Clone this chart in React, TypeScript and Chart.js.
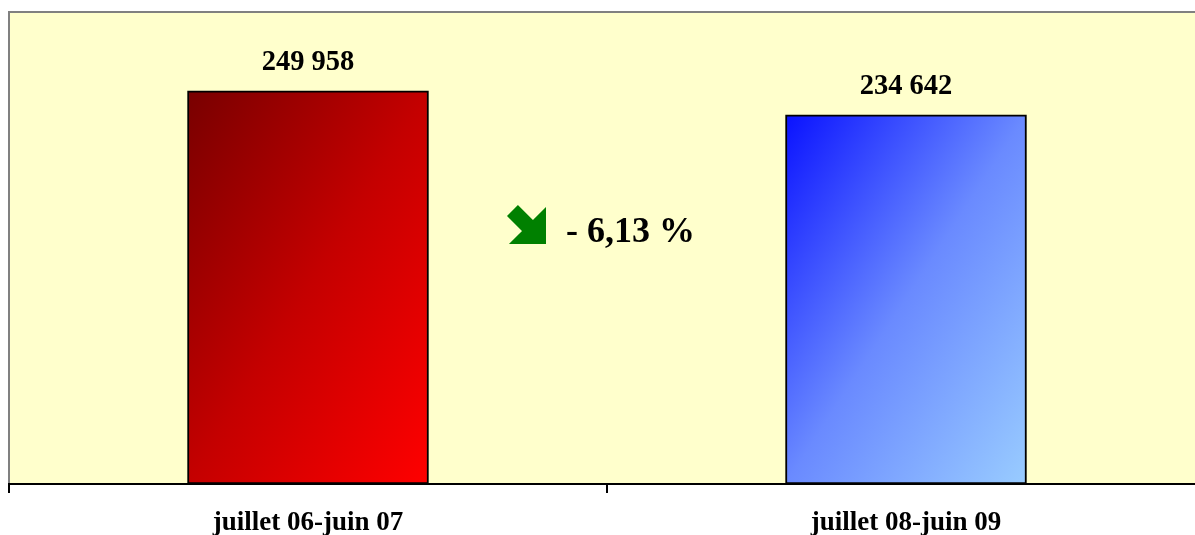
import React, { useEffect, useRef } from "react";
import { Chart, registerables } from "chart.js";

Chart.register(...registerables);

const categories = ["juillet 06-juin 07", "juillet 08-juin 09"];
const values = [249958, 234642];
const yMax = 300000;

const gradientStops: string[][] = [
  ["#780000", "#c40000", "#ff0000"],
  ["#0a12ff", "#6a8aff", "#99ccff"],
];

const FONT = '"Liberation Serif", "Times New Roman", serif';
const BAR_W = 241;

const fmt = (v: number) => {
  const s = String(Math.round(v));
  return s.replace(/\B(?=(\d{3})+(?!\d))/g, " ");
};

const pct = ((values[1] - values[0]) / values[0]) * 100;
const pctLabel = (pct < 0 ? "- " : "+ ") + Math.abs(pct).toFixed(2).replace(".", ",") + " %";

const decorPlugin = {
  id: "decor",
  beforeDraw(chart: any) {
    const { ctx, chartArea } = chart;
    ctx.save();
    ctx.fillStyle = "#FFFFCC";
    ctx.fillRect(chartArea.left, chartArea.top, chart.width - chartArea.left, chartArea.bottom - chartArea.top);
    ctx.fillStyle = "#808080";
    ctx.fillRect(chartArea.left - 1, chartArea.top - 1, chart.width, 2);
    ctx.fillRect(chartArea.left - 1, chartArea.top - 1, 2, chartArea.bottom - chartArea.top + 1);
    ctx.restore();
  },
  afterDatasetsDraw(chart: any) {
    const { ctx, chartArea } = chart;
    const xs = chart.scales.x;
    const ys = chart.scales.y;
    ctx.save();
    ctx.fillStyle = "#000";
    ctx.font = `bold 28.5px ${FONT}`;
    ctx.textAlign = "center";
    ctx.textBaseline = "middle";
    values.forEach((v, i) => {
      const x = xs.getPixelForValue(i);
      const y = ys.getPixelForValue(v);
      ctx.fillText(fmt(v), x, y - 28);
    });

    // change annotation
    const mid = (xs.getPixelForValue(0) + xs.getPixelForValue(1)) / 2;
    const ax = mid - 100;
    const ay = chartArea.top + 193;
    const s = 39;
    const pts = [
      [0.28, 0],
      [0.665, 0.385],
      [1, 0.05],
      [1, 1],
      [0.05, 1],
      [0.385, 0.665],
      [0, 0.28],
    ];
    ctx.fillStyle = "#008000";
    ctx.beginPath();
    pts.forEach(([px, py], k) => {
      const X = ax + px * s;
      const Y = ay + py * s;
      if (k === 0) ctx.moveTo(X, Y);
      else ctx.lineTo(X, Y);
    });
    ctx.closePath();
    ctx.fill();

    ctx.fillStyle = "#000";
    ctx.font = `bold 36px ${FONT}`;
    ctx.textAlign = "left";
    ctx.textBaseline = "middle";
    ctx.fillText(pctLabel, mid - 41, chartArea.top + 221);
    ctx.restore();
  },
};

export default function App() {
  const ref = useRef<HTMLCanvasElement>(null);

  useEffect(() => {
    const canvas = ref.current;
    if (!canvas) return;
    const chart = new Chart(canvas, {
      type: "bar",
      data: {
        labels: categories,
        datasets: [
          {
            data: values,
            backgroundColor: (c: any) => {
              const chart = c.chart;
              const i = c.dataIndex;
              const xs = chart.scales?.x;
              const ys = chart.scales?.y;
              const stops = gradientStops[i % gradientStops.length];
              if (!xs || !ys || !chart.chartArea) return stops[1];
              const cx = xs.getPixelForValue(i);
              const l = cx - BAR_W / 2;
              const t = ys.getPixelForValue(values[i]);
              const b = ys.getPixelForValue(0);
              const w = BAR_W;
              const h = b - t;
              const k = (2 * w * h) / (h * h + w * w);
              const g = chart.ctx.createLinearGradient(l, t, l + h * k, t + w * k);
              g.addColorStop(0, stops[0]);
              g.addColorStop(0.5, stops[1]);
              g.addColorStop(1, stops[2]);
              return g;
            },
            borderColor: "#000",
            borderWidth: 2,
            borderSkipped: false,
            barThickness: BAR_W,
          },
        ],
      },
      options: {
        responsive: false,
        animation: false,
        devicePixelRatio: 1,
        layout: { padding: { top: 4, left: 1, right: 0, bottom: 0 } },
        plugins: {
          legend: { display: false },
          tooltip: { enabled: false },
        },
        scales: {
          x: {
            offset: true,
            grid: {
              display: true,
              offset: true,
              drawOnChartArea: false,
              drawTicks: true,
              tickLength: 9,
              color: "#000",
              lineWidth: 2,
            },
            border: { display: true, color: "#000", width: 2 },
            ticks: {
              color: "#000",
              padding: 17,
              maxRotation: 0,
              autoSkip: false,
              font: { family: FONT, size: 27, weight: "bold", lineHeight: 1 },
            },
          },
          y: {
            display: false,
            min: 0,
            max: yMax,
          },
        },
      },
      plugins: [decorPlugin],
    });
    return () => chart.destroy();
  }, []);

  return (
    <div
      style={{
        position: "fixed",
        left: 8,
        top: 8,
        width: 1187,
        height: 527,
        overflow: "hidden",
      }}
    >
      <canvas ref={ref} width={1197} height={546} style={{ display: "block" }} />
    </div>
  );
}
